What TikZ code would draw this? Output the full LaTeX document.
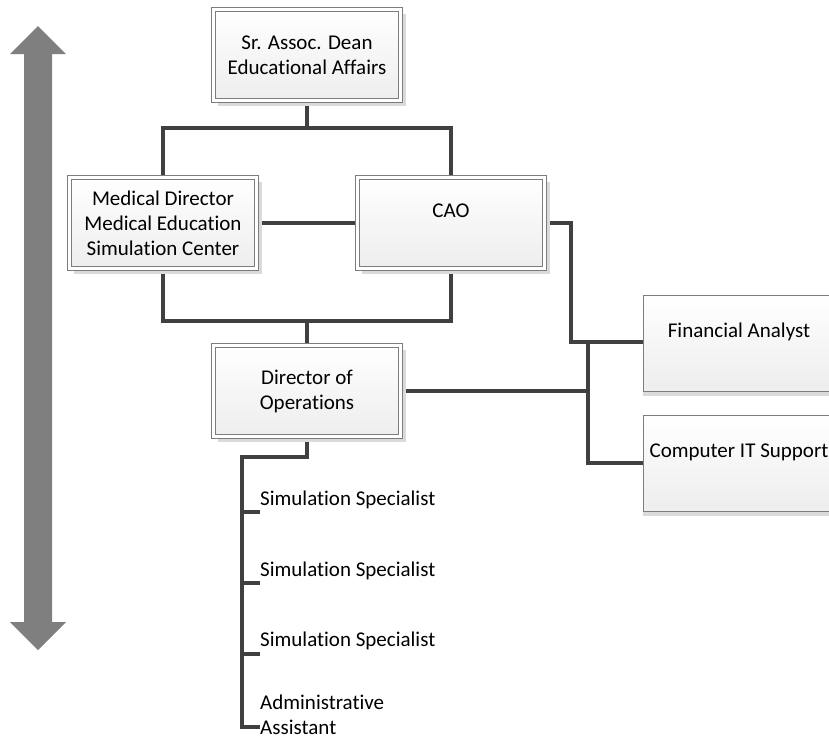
\documentclass[tikz,border=0pt]{standalone}
\usepackage{fontspec}
\setmainfont{Carlito}[Ligatures=NoCommon]
\usetikzlibrary{shadows,backgrounds}
\definecolor{conn}{RGB}{64,64,64}
\definecolor{boxline}{RGB}{125,125,125}
\definecolor{arrowgray}{RGB}{127,127,127}
\definecolor{shadowgray}{RGB}{218,218,218}
\begin{document}
\begin{tikzpicture}[x=1pt,y=-1pt,
  txt/.style={font=\fontsize{21}{25}\selectfont, align=center, text=black},
  mainbox/.style={txt, draw=boxline, line width=0.8pt, double=white, double distance=3pt,
    top color=white, bottom color=black!7, inner sep=0pt, outer sep=0pt,
    minimum width=187.4pt, minimum height=91.4pt,
    general shadow={fill=shadowgray, shadow xshift=5pt, shadow yshift=-5pt}},
  sidebox/.style={txt, draw=boxline, line width=0.9pt,
    top color=white, bottom color=black!7, inner sep=0pt, outer sep=0pt,
    minimum width=192pt, minimum height=96pt,
    general shadow={fill=shadowgray, shadow xshift=0pt, shadow yshift=-5pt}},
  leaf/.style={txt, align=left, anchor=west, inner sep=0pt},
  link/.style={draw=conn, line width=3.2pt}]
\clip (0,0) rectangle (829,739);
% double-headed arrow
\fill[arrowgray] (38,26) -- (66,54) -- (52,54) -- (52,622) -- (66,622) -- (38,650)
  -- (10,622) -- (24,622) -- (24,54) -- (10,54) -- cycle;
% boxes
\node[mainbox] (dean) at (307,55) {Sr. Assoc. Dean\\Educational Affairs};
\node[mainbox] (med) at (163,223) {Medical Director\\Medical Education\\Simulation Center};
\node[mainbox] (cao) at (451,223) {CAO\\\mbox{}};
\node[mainbox] (dir) at (307,391) {Director of\\Operations};
\node[sidebox] (fin) at (739,343) {Financial Analyst\\\mbox{}};
\node[sidebox] (it) at (739,463) {Computer IT Support\\\mbox{}};
% leaves
\node[leaf] (s1) at (260,500) {Simulation Specialist};
\node[leaf] (s2) at (260,571) {Simulation Specialist};
\node[leaf] (s3) at (260,641) {Simulation Specialist};
\node[leaf] (aa) at (260,714.5) {Administrative\\Assistant};
% junction coordinates
\coordinate (j1) at (307,128);
\coordinate (j2) at (307,321);
\coordinate (jc) at (571,223);
\coordinate (jf) at (571,342);
\coordinate (bt) at (588,342);
\coordinate (bm) at (588,391);
\coordinate (bb) at (588,463);
\coordinate (dj) at (307,457);
\coordinate (sp) at (242,457);
\coordinate (t1) at (242,512);
\coordinate (t2) at (242,583);
\coordinate (t3) at (242,654);
\coordinate (t4) at (242,727);
\begin{scope}[on background layer]
\fill[white] (0,0) rectangle (829,739);
\draw[link] (dean.south) -- (j1);
\draw[link] (j1) -| (med.north);
\draw[link] (j1) -| (cao.north);
\draw[link] (med.east) -- (cao.west);
\draw[link] (med.south) |- (j2);
\draw[link] (cao.south) |- (j2);
\draw[link] (j2) -- (dir.north);
\draw[link] (cao.east) -- (jc) -- (jf) -- (jf -| fin.west);
\draw[link] (dir.east) -- (bm);
\draw[link] (bt) -- (bb) -- (bb -| it.west);
\draw[link] (dir.south) -- (dj) -- (sp) -- (t4) -- (t4 -| aa.west);
\draw[link] (t1) -- (t1 -| s1.west);
\draw[link] (t2) -- (t2 -| s2.west);
\draw[link] (t3) -- (t3 -| s3.west);
\end{scope}
\end{tikzpicture}
\end{document}
